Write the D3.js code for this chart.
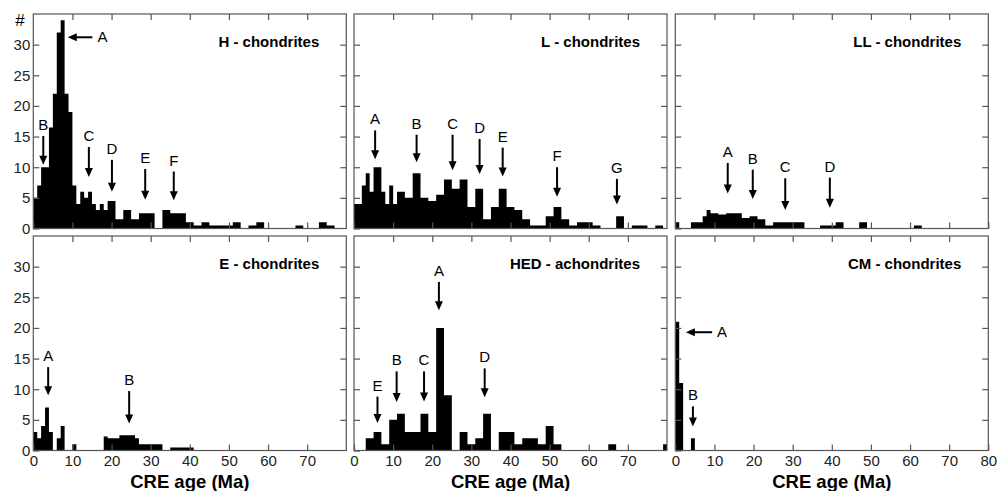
<!DOCTYPE html>
<html>
<head>
<meta charset="utf-8">
<script src="https://cdn.jsdelivr.net/npm/d3@7/dist/d3.min.js"></script>
<style>
  body { margin: 0; background: #fff; }
  svg { display: block; font-family: "Liberation Sans", Arial, sans-serif; }
  .frame { fill: none; stroke: #555; stroke-width: 1.2; }
  .tick line { stroke: #555; stroke-width: 1.2; }
  .domain { display: none; }
  .tick text { font-size: 15px; fill: #222; }
</style>
</head>
<body>
<div id="chart"></div>
<script>
// histogram bins: [from Ma, to Ma, count]
const hBins = [[0,1,5],[1,2,7],[2,4,10],[4,5,16.5],[5,6,22],[6,7,32],[7,8,34],[8,9,22],[9,10,19],[10,11,7],
  [11,12,4],[12,13,6],[13,14,5],[14,15,6],[15,16,4],[16,17,3],[17,18,4],[18,19,3],[19,21,4.5],[21,23,1.5],
  [23,25,3],[25,27,1.5],[27,31,2.5],[31,33,0],[33,35,3],[35,39,2.5],[39,41,1],[41,43,0.5],[43,45,1],[45,51,0.5],
  [51,53,1],[53,55,0],[55,57,0.5],[57,59,1],[59,67,0],[67,69,0.5],[69,73,0],[73,75,1],[75,77,0.5],[77,80,0]];
const lBins = [[0,2,4],[2,3,7],[3,4,9],[4,5,6],[5,7,10],[7,8,6],[8,9,4],[9,10,7],[10,11,4],[11,13,6],
  [13,15,5],[15,17,9],[17,19,5],[19,21,4.5],[21,23,5.5],[23,25,8],[25,27,6.5],[27,29,8],[29,31,3.5],[31,33,6.5],
  [33,35,1.5],[35,37,3.5],[37,39,6.5],[39,41,3.5],[41,43,3],[43,45,1.5],[45,49,0.5],[49,51,2],[51,53,3.5],[53,55,1.5],
  [55,57,0.5],[57,61,1],[61,63,0.5],[63,67,0],[67,69,2],[69,71,0],[71,75,0.5],[75,77,0],[77,79,0.5],[79,80,0]];
const llBins = [[0,1,1],[1,4,0],[4,7,1],[7,8,2],[8,9,3],[9,11,2.5],[11,13,2.3],[13,15,2.5],[15,17,2.5],[17,19,1.7],
  [19,21,2],[21,23,1.5],[23,25,0.5],[25,33,1],[33,37,0],[37,41,0.5],[41,43,1],[43,47,0],[47,49,1],[49,61,0],
  [61,63,0.5],[63,80,0]];
const eBins = [[0,1,3],[1,2,2],[2,3,4],[3,4,7],[4,5,3],[5,6,0],[6,7,2],[7,8,4],[8,10,0],[10,11,1],
  [11,18,0],[18,19,2.3],[19,22,2],[22,26,2.5],[26,27,2],[27,33,1],[33,35,0],[35,41,0.5],[41,80,0]];
const hedBins = [[0,3,0],[3,5,2],[5,7,3],[7,9,1],[9,11,5],[11,13,6],[13,17,3],[17,19,6],[19,21,3],[21,23,20],
  [23,25,9],[25,27,0],[27,29,3],[29,31,1],[31,33,2],[33,35,6],[35,37,0],[37,41,3],[41,43,1],[43,47,2],
  [47,49,1],[49,51,4],[51,53,1],[53,65,0],[65,67,1],[67,79,0],[79,80,1]];
const cmBins = [[0,1,21],[1,2,11],[2,4,0],[4,5,2]];

// peak markers: [label, age, arrow top count, arrow tip count]
const hPeaks = [["B",2.55,15.1,10.4],["C",14.2,13.3,8.4],["D",20.1,11.2,6.0],["E",28.6,9.7,4.7],["F",35.9,9.3,4.6]];
const lPeaks = [["A",5.4,16,11.3],["B",16,15.3,10.8],["C",25.2,15.3,9.5],["D",32.1,14.6,8.9],["E",38,13.2,8.5],["F",51.9,10,5.2],["G",67.2,8.1,3.9]];
const llPeaks = [["A",13.4,10.7,5.7],["B",19.8,9.6,4.8],["C",28.1,8.2,3.0],["D",39.5,8.3,3.4]];
const ePeaks = [["A",3.8,13.6,9],["B",24.5,9.7,4.4]];
const hedPeaks = [["E",6,8.8,4.5],["B",10.9,12.9,7.9],["C",17.9,12.9,8],["A",21.7,27.5,22.9],["D",33.4,13.4,8.7]];
const cmPeaks = [["B",4.5,7.2,3.9]];
// sideways markers: [label, count, tip age, tail age]
const hSide = [["A",31.2,8.8,15.1]];
const cmSide = [["A",19.3,2.7,9.4]];

const titles = ["H - chondrites","L - chondrites","LL - chondrites","E - chondrites","HED - achondrites","CM - chondrites"];
const xTicks = [0,10,20,30,40,50,60,70,80];
const yTicks = [0,5,10,15,20,25,30,35];

const panels = [
  {bins: hBins, peaks: hPeaks, side: hSide},
  {bins: lBins, peaks: lPeaks, side: []},
  {bins: llBins, peaks: llPeaks, side: []},
  {bins: eBins, peaks: ePeaks, side: []},
  {bins: hedBins, peaks: hedPeaks, side: []},
  {bins: cmBins, peaks: cmPeaks, side: cmSide}
];

const W = 998, H = 491;
const colX = [33.3, 354, 675.3], rowY = [14, 236];
const pw = 313, ph = 214.5, tick = 6;

const svg = d3.select("#chart").append("svg")
    .attr("width", W)
    .attr("height", H);

svg.append("text")
    .attr("x", 20).attr("y", 26)
    .attr("text-anchor", "middle")
    .style("font-size", "17px")
    .text("#");

panels.forEach((p, i) => {
  let col = i % 3, row = Math.floor(i / 3);
  let x = d3.scaleLinear().domain([0, 80]).range([colX[col], colX[col] + pw]);
  let y = d3.scaleLinear().domain([0, 35]).range([rowY[row] + ph, rowY[row]]);
  let g = svg.append("g");

  // bars as one stepped shape
  let pts = [];
  p.bins.forEach(b => { pts.push([b[0], b[2]]); pts.push([b[1], b[2]]); });
  let area = d3.area()
      .x(d => x(d[0]))
      .y0(y(0))
      .y1(d => y(d[1]));
  g.append("path")
      .datum(pts)
      .attr("d", area)
      .attr("fill", "#000");

  // inward ticks on all sides
  let left = d3.axisLeft(y).tickValues(yTicks.slice(0, 7)).tickSize(-tick).tickPadding(3);
  if (col > 0) left.tickFormat("");
  g.append("g").attr("transform", `translate(${colX[col]},0)`).call(left);
  g.append("g").attr("transform", `translate(${colX[col] + pw},0)`)
      .call(d3.axisRight(y).tickValues(yTicks.slice(1, 7)).tickSize(-tick).tickFormat(""));
  g.append("g").attr("transform", `translate(0,${rowY[row]})`)
      .call(d3.axisTop(x).tickValues(xTicks.slice(1, 8)).tickSize(-tick).tickFormat(""));
  let bottom = d3.axisBottom(x).tickSize(-tick).tickPadding(5)
      .tickValues(col == 2 ? xTicks : xTicks.slice(0, 8));
  if (row == 0) bottom.tickFormat("");
  g.append("g").attr("transform", `translate(0,${rowY[row] + ph})`).call(bottom);

  g.append("rect").attr("class", "frame")
      .attr("x", colX[col]).attr("y", rowY[row])
      .attr("width", pw).attr("height", ph);

  g.append("text")
      .attr("x", colX[col] + pw - 27)
      .attr("y", rowY[row] + 33)
      .attr("text-anchor", "end")
      .style("font-size", "15px")
      .style("font-weight", "bold")
      .text(titles[i]);

  // downward arrows
  p.peaks.forEach(a => {
    let ax = x(a[1]), top = y(a[2]), tip = y(a[3]);
    g.append("line")
        .attr("x1", ax).attr("x2", ax)
        .attr("y1", top).attr("y2", tip - 6)
        .attr("stroke", "#000").attr("stroke-width", 2);
    g.append("path")
        .attr("d", `M${ax - 4},${tip - 9}L${ax + 4},${tip - 9}L${ax},${tip}Z`)
        .attr("fill", "#000");
    g.append("text")
        .attr("x", ax).attr("y", top - 6)
        .attr("text-anchor", "middle")
        .style("font-size", "15px")
        .text(a[0]);
  });

  // leftward arrows
  p.side.forEach(a => {
    let ay = y(a[1]), tip = x(a[2]), tail = x(a[3]);
    g.append("line")
        .attr("x1", tip + 6).attr("x2", tail)
        .attr("y1", ay).attr("y2", ay)
        .attr("stroke", "#000").attr("stroke-width", 2);
    g.append("path")
        .attr("d", `M${tip + 9},${ay - 4}L${tip + 9},${ay + 4}L${tip},${ay}Z`)
        .attr("fill", "#000");
    g.append("text")
        .attr("x", tail + 5).attr("y", ay + 5)
        .style("font-size", "15px")
        .text(a[0]);
  });

  if (row == 1) {
    svg.append("text")
        .attr("x", colX[col] + pw / 2)
        .attr("y", 488)
        .attr("text-anchor", "middle")
        .style("font-size", "18.5px")
        .style("font-weight", "bold")
        .text("CRE age (Ma)");
  }
});
</script>
</body>
</html>
